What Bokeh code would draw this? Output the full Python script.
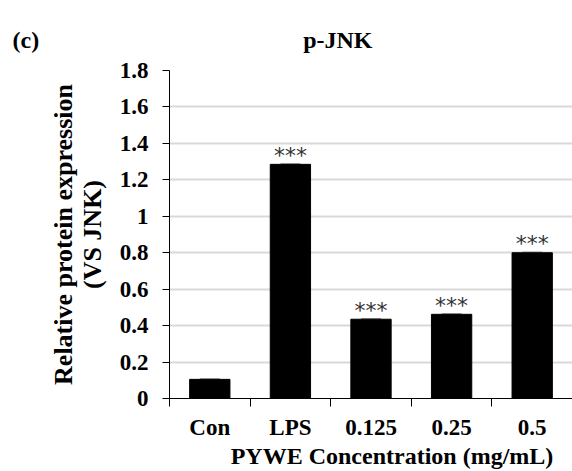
import numpy as np
from bokeh.plotting import figure
from bokeh.models import ColumnDataSource, Range1d, FixedTicker, Whisker, TeeHead, Title
from bokeh.core.properties import value
from bokeh.embed import file_html
from bokeh.resources import INLINE

# ---- data ----
categories = ["Con", "LPS", "0.125", "0.25", "0.5"]
values = [0.105, 1.285, 0.435, 0.462, 0.800]
errors = [0.004, 0.004, 0.004, 0.004, 0.004]
stars = ["", "***", "***", "***", "***"]
y_ticks = [0, 0.2, 0.4, 0.6, 0.8, 1, 1.2, 1.4, 1.6, 1.8]
y_tick_labels = ["0", "0.2", "0.4", "0.6", "0.8", "1", "1.2", "1.4", "1.6", "1.8"]
title_text = "p-JNK"
panel_text = "(c)"
y_label_text = "Relative protein expression\n(VS JNK)"
x_label_text = "PYWE Concentration (mg/mL)"

SERIF = "Liberation Serif"
NBSP = "\u00a0"

xpos = [i + 0.5 for i in range(len(categories))]
source = ColumnDataSource(data=dict(
    x=xpos, top=values,
    upper=[v + e for v, e in zip(values, errors)],
    lower=[v - e for v, e in zip(values, errors)],
    stars=stars,
))

p = figure(width=572, height=471, output_backend="svg", toolbar_location=None,
           x_range=Range1d(0, len(categories)), y_range=Range1d(0, 1.8),
           min_border_left=169, min_border_top=70, min_border_bottom=73,
           min_border_right=0)
p.outline_line_color = None
p.background_fill_color = "white"
p.border_fill_color = "white"

# bars
p.vbar(x="x", top="top", width=0.5, bottom=0, source=source,
       fill_color="black", line_color="black")

# error bars
w = Whisker(base="x", upper="upper", lower="lower", source=source,
            line_color="#9a9a9a", line_width=1,
            upper_head=TeeHead(size=20, line_color="#9a9a9a", line_width=1),
            lower_head=TeeHead(size=20, line_color="#9a9a9a", line_width=1))
p.add_layout(w)

# significance stars
p.text(x="x", y="upper", text="stars", source=source,
       text_align="center", text_baseline="middle", y_offset=-8,
       text_font=value("DejaVu Sans"), text_font_size="22px", text_color="#333333")

# x axis
xa = p.xaxis[0]
xa.ticker = FixedTicker(ticks=xpos, minor_ticks=list(range(len(categories) + 1)))
xa.major_label_overrides = {x: c for x, c in zip(xpos, categories)}
xa.major_tick_line_color = None
xa.major_tick_out = 0
xa.major_tick_in = 0
xa.minor_tick_out = 8
xa.minor_tick_in = 0
xa.minor_tick_line_color = "black"
xa.axis_line_color = "black"
xa.major_label_standoff = 8
xa.major_label_text_font = SERIF
xa.major_label_text_font_style = "bold"
xa.major_label_text_font_size = "23px"
xa.major_label_text_color = "black"
xa.axis_label = NBSP * 7 + x_label_text
xa.axis_label_standoff = 0
xa.axis_label_text_font = SERIF
xa.axis_label_text_font_style = "bold"
xa.axis_label_text_font_size = "24px"
xa.axis_label_text_color = "black"

# y axis
ya = p.yaxis[0]
ya.ticker = FixedTicker(ticks=y_ticks, minor_ticks=[])
ya.major_label_overrides = {t: l for t, l in zip(y_ticks, y_tick_labels)}
ya.major_tick_out = 7
ya.major_tick_in = 0
ya.minor_tick_line_color = None
ya.major_tick_line_color = "black"
ya.axis_line_color = "black"
ya.major_label_standoff = 14
ya.major_label_text_font = SERIF
ya.major_label_text_font_style = "bold"
ya.major_label_text_font_size = "23px"
ya.major_label_text_color = "black"
ya.axis_label = y_label_text
ya.axis_label_standoff = 10
ya.axis_label_text_font = SERIF
ya.axis_label_text_font_style = "bold"
ya.axis_label_text_font_size = "26px"
ya.axis_label_text_line_height = 1.0
ya.axis_label_text_color = "black"

p.xgrid.grid_line_color = None
p.ygrid.grid_line_color = "#d9d9d9"
p.ygrid.grid_line_width = 2

# panel letter and title on one line above the plot
p.add_layout(Title(text=panel_text + NBSP * 44 + title_text, align="left", offset=-157,
                   standoff=35, text_font=SERIF, text_font_style="bold",
                   text_font_size="24px", text_color="black"), "above")

open("out.html", "w").write(file_html(p, INLINE))
